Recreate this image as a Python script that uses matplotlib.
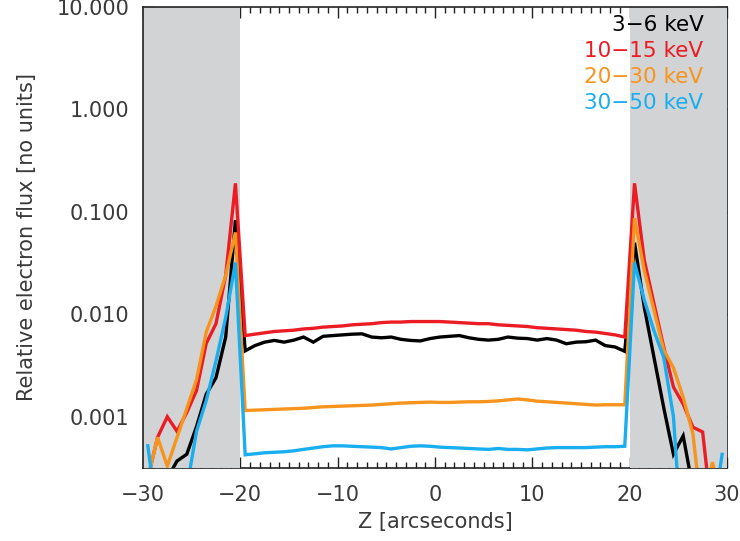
import numpy as np
import matplotlib
matplotlib.use("Agg")
import matplotlib.pyplot as plt
import matplotlib.ticker as mticker

# ------------------------------------------------------------------
# DATA  (positions in arcsec, flux values)
# ------------------------------------------------------------------
z = np.arange(-29.5, 30.0, 1.0)   # 60 half-integer samples

flux_3_6 = [
    1e-4, 1e-4, 2.5e-4, 3.7e-4, 4.3e-4, 8.0e-4, 1.66e-3, 2.4e-3, 6.0e-3, 0.083,
    4.4e-3, 4.95e-3, 5.35e-3, 5.56e-3, 5.35e-3, 5.6e-3, 6.0e-3, 5.35e-3, 6.1e-3, 6.2e-3,
    6.3e-3, 6.4e-3, 6.45e-3, 6.0e-3, 5.9e-3, 6.0e-3, 5.7e-3, 5.56e-3, 5.5e-3, 5.8e-3,
    6.0e-3, 6.1e-3, 6.2e-3, 5.9e-3, 5.7e-3, 5.6e-3, 5.7e-3, 6.0e-3, 5.85e-3, 5.8e-3,
    5.6e-3, 5.8e-3, 5.6e-3, 5.16e-3, 5.35e-3, 5.4e-3, 5.6e-3, 4.95e-3, 4.8e-3, 4.35e-3,
    0.050, 0.0118, 3.8e-3, 1.23e-3, 4.3e-4, 6.5e-4, 2.0e-4, 1e-4, 1e-4, 1e-4,
]
flux_10_15 = [
    2.5e-4, 6.3e-4, 1.0e-3, 7.2e-4, 1.1e-3, 1.8e-3, 5.2e-3, 8.1e-3, 0.024, 0.19,
    6.2e-3, 6.4e-3, 6.6e-3, 6.8e-3, 6.9e-3, 7.0e-3, 7.2e-3, 7.3e-3, 7.5e-3, 7.6e-3,
    7.7e-3, 7.9e-3, 8.0e-3, 8.1e-3, 8.3e-3, 8.4e-3, 8.4e-3, 8.5e-3, 8.5e-3, 8.5e-3,
    8.5e-3, 8.4e-3, 8.3e-3, 8.2e-3, 8.1e-3, 8.1e-3, 7.9e-3, 7.8e-3, 7.7e-3, 7.6e-3,
    7.4e-3, 7.3e-3, 7.2e-3, 7.1e-3, 7.0e-3, 6.8e-3, 6.7e-3, 6.5e-3, 6.3e-3, 6.0e-3,
    0.19, 0.034, 0.0127, 4.8e-3, 1.95e-3, 1.33e-3, 7.9e-4, 7.1e-4, 1e-4, 1e-4,
]
flux_20_30 = [
    2.5e-4, 6.3e-4, 3.3e-4, 6.3e-4, 1.2e-3, 2.3e-3, 6.7e-3, 0.012, 0.024, 0.063,
    1.15e-3, 1.16e-3, 1.17e-3, 1.18e-3, 1.19e-3, 1.20e-3, 1.21e-3, 1.23e-3, 1.25e-3, 1.26e-3,
    1.27e-3, 1.28e-3, 1.29e-3, 1.30e-3, 1.32e-3, 1.34e-3, 1.36e-3, 1.37e-3, 1.38e-3, 1.39e-3,
    1.38e-3, 1.38e-3, 1.39e-3, 1.40e-3, 1.40e-3, 1.41e-3, 1.43e-3, 1.46e-3, 1.49e-3, 1.46e-3,
    1.42e-3, 1.40e-3, 1.38e-3, 1.36e-3, 1.34e-3, 1.32e-3, 1.30e-3, 1.31e-3, 1.31e-3, 1.31e-3,
    0.087, 0.027, 0.011, 4.5e-3, 3.0e-3, 1.55e-3, 6.8e-4, 1e-4, 3.6e-4, 1.5e-4,
]
flux_30_50 = [
    5.2e-4, 1e-4, 1e-4, 1e-4, 2e-4, 7.2e-4, 1.44e-3, 3.5e-3, 9.3e-3, 0.032,
    4.25e-4, 4.35e-4, 4.45e-4, 4.5e-4, 4.55e-4, 4.65e-4, 4.8e-4, 4.95e-4, 5.1e-4, 5.2e-4,
    5.2e-4, 5.15e-4, 5.1e-4, 5.05e-4, 5.0e-4, 4.85e-4, 5.0e-4, 5.15e-4, 5.2e-4, 5.15e-4,
    5.05e-4, 5.0e-4, 4.95e-4, 4.9e-4, 4.85e-4, 4.8e-4, 4.9e-4, 4.8e-4, 4.8e-4, 4.75e-4,
    4.85e-4, 4.95e-4, 5.0e-4, 5.0e-4, 5.0e-4, 5.0e-4, 5.05e-4, 5.1e-4, 5.1e-4, 5.15e-4,
    0.032, 0.0138, 6.9e-3, 3.8e-3, 1.0e-3, 4e-5, 1e-4, 1e-4, 1e-4, 4.3e-4,
]

series_labels = ["3\u22126 keV", "10\u221215 keV", "20\u221230 keV", "30\u221250 keV"]
series_colors = ["#000000", "#ec1c24", "#f7941d", "#19aeef"]
y_ticks = [0.001, 0.01, 0.1, 1.0, 10.0]
shade_zones = [(-30, -20), (20, 30)]

# ------------------------------------------------------------------
# FIGURE
# ------------------------------------------------------------------
fig = plt.figure(figsize=(7.40, 5.41), dpi=100)
ax = fig.add_axes([0.1932, 0.135, 0.7892, 0.852])

for lo, hi in shade_zones:
    ax.axvspan(lo, hi, color="#d2d3d5", lw=0, zorder=2)

for vals, col in zip([flux_3_6, flux_10_15, flux_20_30, flux_30_50], series_colors):
    ax.plot(z, vals, color=col, lw=2.4, zorder=4, solid_joinstyle="miter")

ax.set_yscale("log")
ax.set_xlim(-30, 30)
ax.set_ylim(10 ** -3.5, 10.0)

ax.yaxis.set_major_locator(mticker.FixedLocator(y_ticks))
ax.yaxis.set_major_formatter(mticker.FormatStrFormatter("%.3f"))
ax.yaxis.set_minor_locator(mticker.NullLocator())
ax.xaxis.set_major_locator(mticker.MultipleLocator(10))
ax.xaxis.set_minor_locator(mticker.MultipleLocator(1))

ax.set_axisbelow(True)
ax.tick_params(which="both", direction="in", top=True, right=True,
               colors="#222", labelcolor="#3a3a3a", labelsize=15, width=1.0)
ax.tick_params(which="major", length=8)
ax.tick_params(which="minor", length=4)
ax.tick_params(axis="x", pad=12)
ax.tick_params(axis="y", pad=10)

for side in ["bottom", "right"]:
    ax.spines[side].set_zorder(1)
for sp in ax.spines.values():
    sp.set_linewidth(1.2)
    sp.set_color("#222")

ax.set_xlabel("Z [arcseconds]", fontsize=15, color="#3a3a3a", labelpad=5)
ax.set_ylabel("Relative electron flux [no units]", fontsize=15, color="#3a3a3a", labelpad=14)

# legend as coloured text, right aligned
for i, (lbl, col) in enumerate(zip(series_labels, series_colors)):
    ax.text(0.960, 0.962 - i * 0.057, lbl, color=col, fontsize=15.5,
            ha="right", va="center", transform=ax.transAxes, zorder=5)

fig.savefig("out.png", dpi=100)
